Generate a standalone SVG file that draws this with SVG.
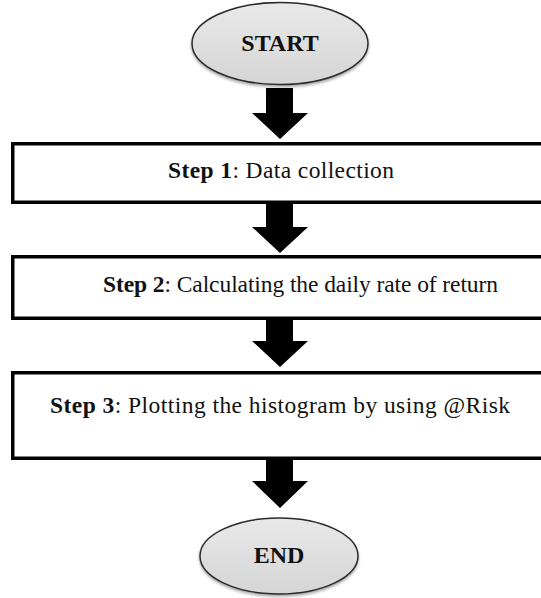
<svg xmlns="http://www.w3.org/2000/svg" width="541" height="598" viewBox="0 0 541 598">
  <defs>
    <linearGradient id="termFill" x1="0" y1="0" x2="0" y2="1">
      <stop offset="0" stop-color="#e9e9e9"/>
      <stop offset="1" stop-color="#d5d5d5"/>
    </linearGradient>
    <filter id="softShadow" x="-10%" y="-10%" width="120%" height="130%">
      <feGaussianBlur in="SourceAlpha" stdDeviation="1.5"/>
      <feOffset dx="0" dy="2" result="blur"/>
      <feComponentTransfer><feFuncA type="linear" slope="0.35"/></feComponentTransfer>
      <feMerge><feMergeNode/><feMergeNode in="SourceGraphic"/></feMerge>
    </filter>
  </defs>
  <style>
    .terminal { fill: url(#termFill); stroke: #2a2a2a; stroke-width: 1.5; filter: url(#softShadow); }
    .step { fill: #ffffff; stroke: #000000; stroke-width: 3.5; }
    .label { font-family: "Liberation Serif", "Times New Roman", serif; fill: #111111; }
    .termText { font-family: "Liberation Serif", "Times New Roman", serif; font-weight: bold; font-size: 24px; fill: #111111; text-anchor: middle; }
    .stepText { font-size: 23.5px; }
    .b { font-weight: bold; }
    .flow { fill: #000000; }
  </style>

  <rect width="541" height="598" fill="#ffffff"/>

  <!-- flow arrows between the stages -->
  <g id="connectors">
    <polygon class="flow" points="266,88 293,88 293,113 308,113 280,139 252,113 266,113"/>
    <polygon class="flow" points="266,204 293,204 293,227 308,227 280,253 252,227 266,227"/>
    <polygon class="flow" points="266,320 293,320 293,341 308,341 280,367 252,341 266,341"/>
    <polygon class="flow" points="266,458 293,458 293,481 308,481 280,508 252,481 266,481"/>
  </g>

  <g id="start">
    <ellipse class="terminal" cx="280" cy="43.5" rx="88" ry="41"/>
    <text class="termText" x="280" y="50.5">START</text>
  </g>

  <g id="step1">
    <rect class="step" x="12.75" y="143.75" width="540" height="58.5"/>
    <text class="label stepText" x="168" y="178" textLength="226" lengthAdjust="spacing"><tspan class="b">Step 1</tspan>: Data collection</text>
  </g>

  <g id="step2">
    <rect class="step" x="12.75" y="256.75" width="540" height="61.5"/>
    <text class="label stepText" x="103" y="292" textLength="395" lengthAdjust="spacing"><tspan class="b">Step 2</tspan>: Calculating the daily rate of return</text>
  </g>

  <g id="step3">
    <rect class="step" x="12.75" y="372.75" width="540" height="85.5"/>
    <text class="label stepText" x="50" y="413" textLength="460" lengthAdjust="spacing"><tspan class="b">Step 3</tspan>: Plotting the histogram by using @Risk</text>
  </g>

  <g id="end">
    <ellipse class="terminal" cx="279" cy="556" rx="79" ry="38"/>
    <text class="termText" x="279" y="562.5">END</text>
  </g>
</svg>
